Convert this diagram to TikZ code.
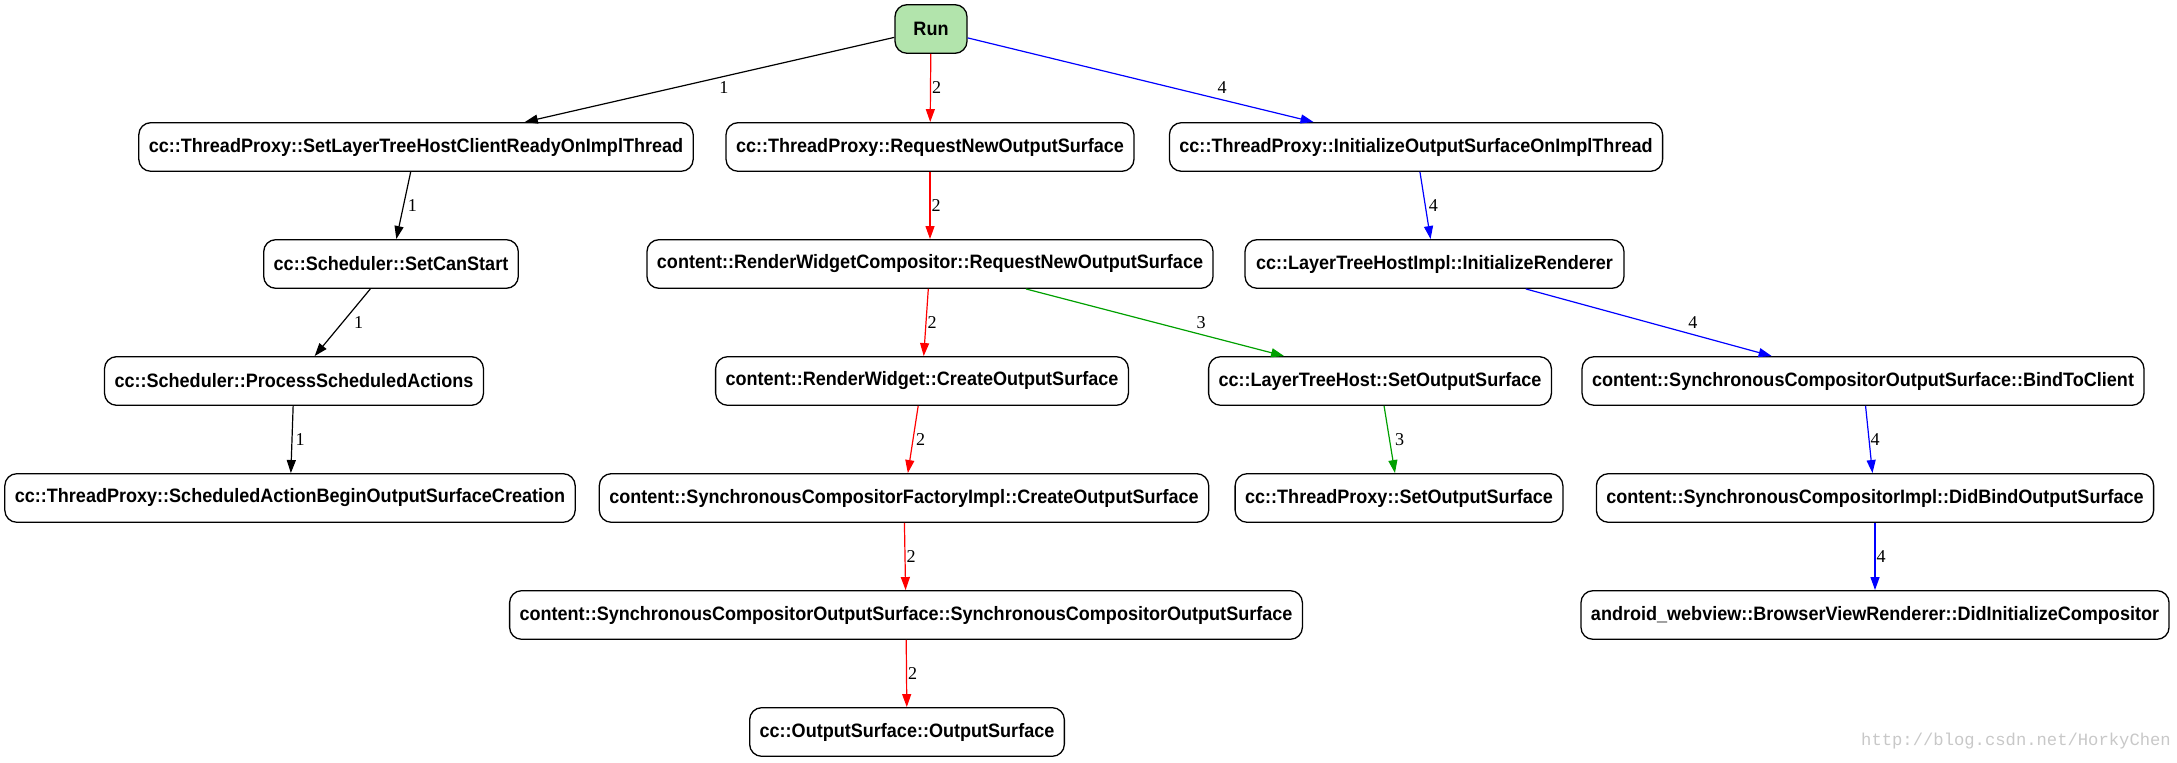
\documentclass[tikz,border=0pt]{standalone}
\usepackage{fontspec}
\setmainfont{Liberation Serif}
\setsansfont{Liberation Sans}[FakeStretch=0.93]
\setmonofont{Liberation Mono}
\usetikzlibrary{arrows.meta}
\definecolor{runfill}{RGB}{178,228,172}
\definecolor{callgreen}{RGB}{0,160,0}
\definecolor{markgray}{RGB}{200,200,200}

\begin{document}
\begin{tikzpicture}[x=0.5pt, y=-0.5pt,
    fn/.style={draw, rounded corners=6pt, line width=0.65pt, inner xsep=5pt, inner ysep=0pt,
        minimum height=24.3pt, font=\sffamily\bfseries\fontsize{9.7}{11}\selectfont},
    call/.style={-{Triangle[length=6.5pt,width=4.5pt]}, line width=0.6pt},
    lbl/.style={right, inner sep=0.5pt, text=black, font=\rmfamily\fontsize{9.05}{11}\selectfont}]
    \useasboundingbox (0,0) rectangle (2177,763);

    % Root
    \node[fn, fill=runfill, minimum width=36pt] (run) at (931,29) {Run};

    % Row 1
    \node[fn] (slt) at (416,147) {cc::ThreadProxy::SetLayerTreeHostClientReadyOnImplThread};
    \node[fn] (rnos) at (930,147) {cc::ThreadProxy::RequestNewOutputSurface};
    \node[fn] (iosoit) at (1416,147) {cc::ThreadProxy::InitializeOutputSurfaceOnImplThread};

    % Row 2
    \node[fn] (scs) at (391,264) {cc::Scheduler::SetCanStart};
    \node[fn] (rwc) at (930,264) {content::RenderWidgetCompositor::RequestNewOutputSurface};
    \node[fn, minimum width=189.5pt] (lthi) at (1434.5,264) {cc::LayerTreeHostImpl::InitializeRenderer};

    % Row 3
    \node[fn] (psa) at (294,381) {cc::Scheduler::ProcessScheduledActions};
    \node[fn] (rw) at (922,381) {content::RenderWidget::CreateOutputSurface};
    \node[fn] (lth) at (1380,381) {cc::LayerTreeHost::SetOutputSurface};
    \node[fn] (btc) at (1863,381) {content::SynchronousCompositorOutputSurface::BindToClient};

    % Row 4
    \node[fn] (sab) at (290,498) {cc::ThreadProxy::ScheduledActionBeginOutputSurfaceCreation};
    \node[fn] (scfi) at (904,498) {content::SynchronousCompositorFactoryImpl::CreateOutputSurface};
    \node[fn] (tpsos) at (1399,498) {cc::ThreadProxy::SetOutputSurface};
    \node[fn] (db) at (1875,498) {content::SynchronousCompositorImpl::DidBindOutputSurface};

    % Row 5 and 6
    \node[fn] (scos) at (906,615) {content::SynchronousCompositorOutputSurface::SynchronousCompositorOutputSurface};
    \node[fn] (di) at (1875,615) {android\_webview::BrowserViewRenderer::DidInitializeCompositor};
    \node[fn] (os) at (907,732) {cc::OutputSurface::OutputSurface};

    % Calls: from/to/colour/label pos/label shift/label
    \foreach \a/\b/\c/\p/\s/\n in {run/slt/black/0.594/21.5/1, slt/scs/black/0.5/1.4/1,
        scs/psa/black/0.5/5/1, psa/sab/black/0.5/1/1,
        run/rnos/red/0.5/0/2, rnos/rwc/red/0.5/0/2, rwc/rw/red/0.5/0/2, rw/scfi/red/0.5/0.7/2,
        scfi/scos/red/0.5/0/2, scos/os/red/0.5/0/2,
        rwc/lth/callgreen/0.5/20/3, lth/tpsos/callgreen/0.5/2/3,
        run/iosoit/blue/0.594/21.5/4, iosoit/lthi/blue/0.5/1/4, lthi/btc/blue/0.5/19/4,
        btc/db/blue/0.5/0/4, db/di/blue/0.5/0/4}
        \draw[call, \c] (\a) -- node[lbl, pos=\p, xshift=\s pt] {\n} (\b);

    % Watermark
    \node[font=\ttfamily\fontsize{8.6}{10}\selectfont, text=markgray] (mark) at (2016,741) {http://blog.csdn.net/HorkyChen};
\end{tikzpicture}
\end{document}
